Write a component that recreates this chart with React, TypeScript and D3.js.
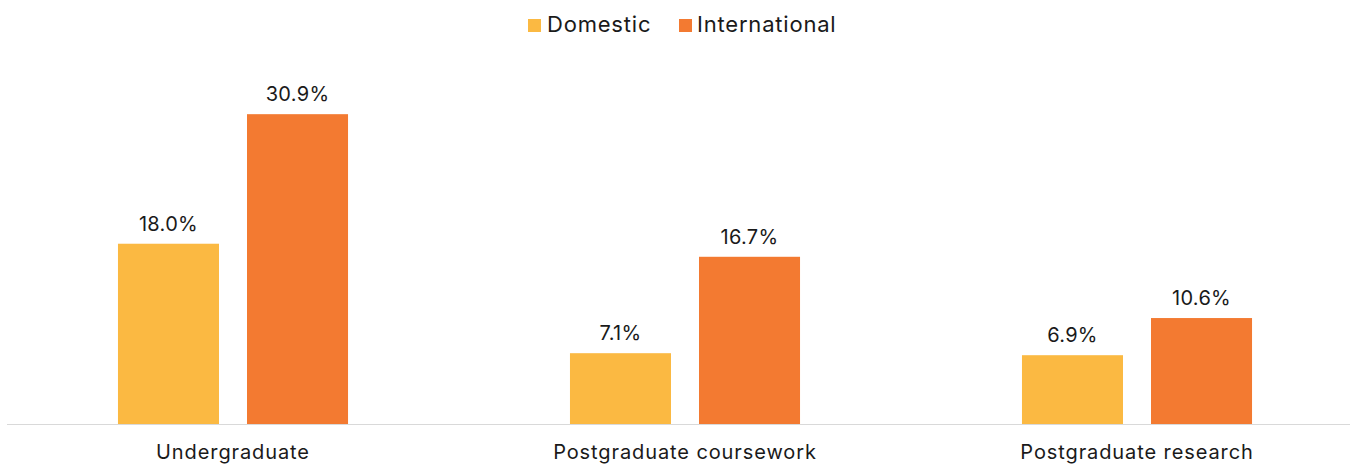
import React from 'react';
import * as d3 from 'd3';

const categories = ['Undergraduate', 'Postgraduate coursework', 'Postgraduate research'];
const seriesNames = ['Domestic', 'International'];
const domesticValues = [18.0, 7.1, 6.9];
const internationalValues = [30.9, 16.7, 10.6];
const seriesColors = ['#FBB942', '#F37A31'];

const W = 1350;
const H = 464;
const FONT = "Inter, 'Noto Sans', sans-serif";
const TEXT = '#1a1a1a';

const App: React.FC = () => {
  const values = [domesticValues, internationalValues];

  // outer band for categories, inner band for the two series
  const x0 = d3.scaleBand<string>().domain(categories).range([7, 1363]).padding(0);
  const x1 = d3.scaleBand<string>()
    .domain(seriesNames)
    .range([0, x0.bandwidth()])
    .paddingInner(0.217)
    .paddingOuter(0.86);
  const y = d3.scaleLinear().domain([0, 35]).range([424.5, 73]);

  return (
    <div style={{ position: 'absolute', left: 0, top: 0 }}>
      <svg width={W} height={H} style={{ display: 'block', background: '#fff' }}>
        {/* legend */}
        <g fontFamily={FONT} fontSize={22} fill={TEXT} style={{ letterSpacing: '0.8px' }}>
          <rect x={528} y={19} width={13} height={13} fill={seriesColors[0]} />
          <text x={547} y={32}>{seriesNames[0]}</text>
          <rect x={679} y={19} width={13} height={13} fill={seriesColors[1]} />
          <text x={697} y={32}>{seriesNames[1]}</text>
        </g>

        {categories.map((c, ci) => (
          <g key={c} transform={`translate(${x0(c)},0)`}>
            {seriesNames.map((s, si) => {
              const v = values[si][ci];
              const bx = x1(s)!;
              return (
                <g key={s}>
                  <rect x={bx} y={y(v)} width={x1.bandwidth()} height={y(0) - y(v)} fill={seriesColors[si]} />
                  <text
                    x={bx + x1.bandwidth() / 2}
                    y={y(v) - 13}
                    textAnchor="middle"
                    fontFamily={FONT}
                    fontSize={20}
                    fill={TEXT}
                    style={{ letterSpacing: '0.3px' }}
                  >
                    {v.toFixed(1)}%
                  </text>
                </g>
              );
            })}
            <text
              x={x0.bandwidth() / 2}
              y={459}
              textAnchor="middle"
              fontFamily={FONT}
              fontSize={20}
              fill={TEXT}
              style={{ letterSpacing: '0.9px' }}
            >
              {c}
            </text>
          </g>
        ))}

        {/* baseline */}
        <line x1={7} x2={W} y1={424.5} y2={424.5} stroke="#d9d9d9" strokeWidth={1} />
      </svg>
    </div>
  );
};

export default App;
